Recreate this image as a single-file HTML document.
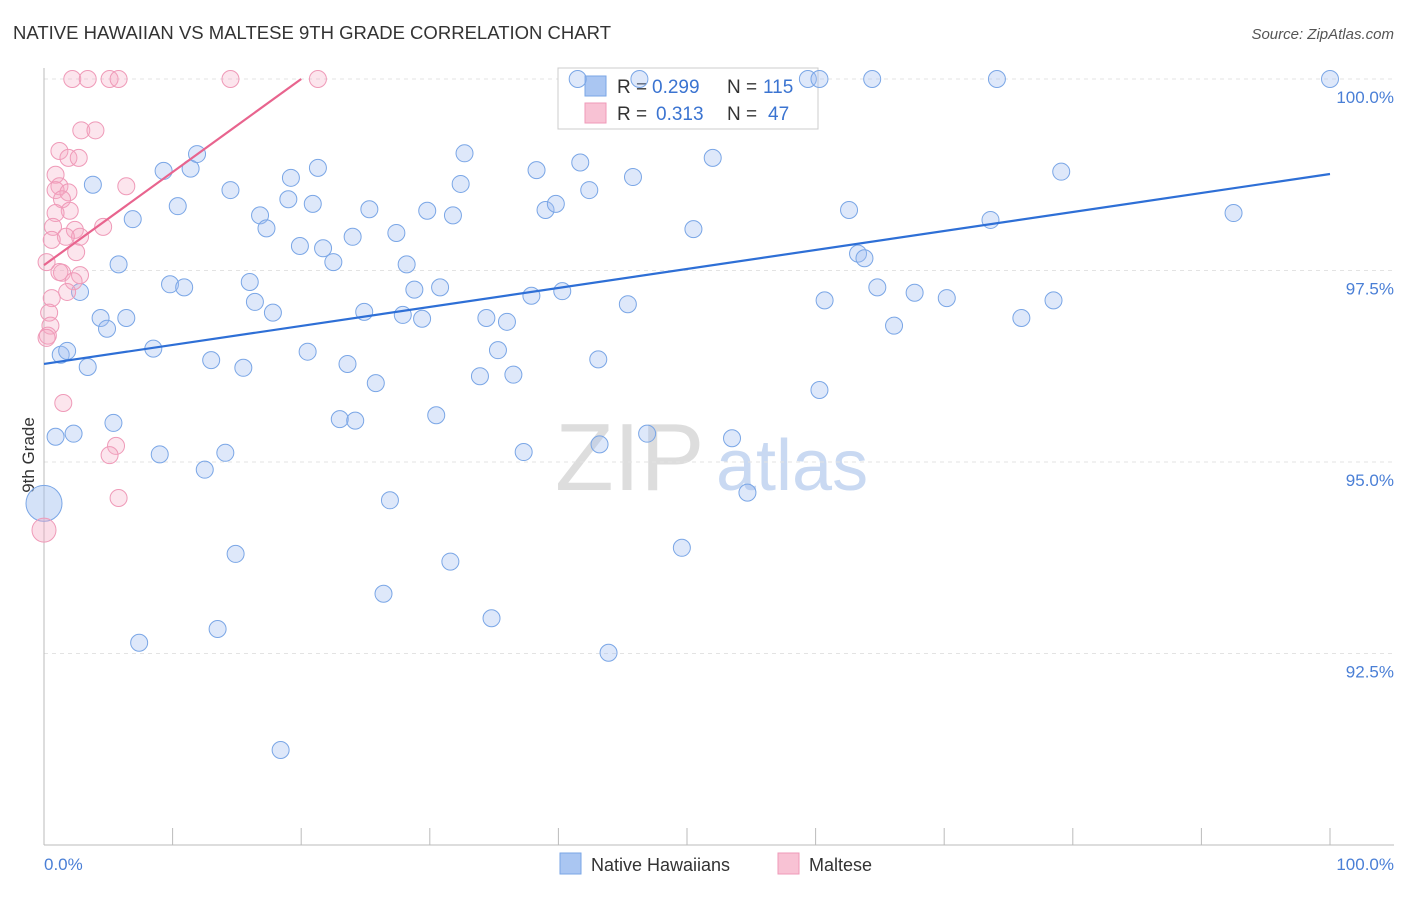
<!DOCTYPE html>
<html><head><meta charset="utf-8"><style>
body{margin:0;background:#fff;font-family:"Liberation Sans",sans-serif}
svg text{font-family:"Liberation Sans",sans-serif}
</style></head><body>
<svg id="chart" width="1406" height="892" viewBox="0 0 1406 892">
<text x="13" y="39" font-size="18.5" fill="#333" textLength="598">NATIVE HAWAIIAN VS MALTESE 9TH GRADE CORRELATION CHART</text>
<text x="1394" y="39" font-size="15" fill="#555" font-style="italic" text-anchor="end">Source: ZipAtlas.com</text>
<g><text x="555" y="490" font-size="96" fill="#ddd" font-family="Liberation Serif">ZIP</text><text x="716" y="490" font-size="72" fill="#c9d9f2">atlas</text></g>
<g id="grid"></g><g id="axes"></g>
<text transform="translate(34,455) rotate(-90)" font-size="17" fill="#333" text-anchor="middle">9th Grade</text>
<g>
<rect x="558" y="68" width="260" height="61" fill="#fff" stroke="#ccc"/>
<rect x="585" y="76" width="21" height="20" fill="#aac6f2" stroke="#7aa6e6"/>
<text x="617" y="93" font-size="19" fill="#333">R = </text><text x="652" y="93" font-size="19" fill="#3b74d1">0.299</text>
<text x="727" y="93" font-size="19" fill="#333">N = </text><text x="763" y="93" font-size="19" fill="#3b74d1">115</text>
<rect x="585" y="103" width="21" height="20" fill="#f8c2d4" stroke="#ef9ab8"/>
<text x="617" y="120" font-size="19" fill="#333">R = </text><text x="656" y="120" font-size="19" fill="#3b74d1">0.313</text>
<text x="727" y="120" font-size="19" fill="#333">N = </text><text x="768" y="120" font-size="19" fill="#3b74d1">47</text>
</g>
<g id="pts"></g><g id="lines"></g>
<g><rect x="560" y="853" width="21" height="21" fill="#aac6f2" stroke="#7aa6e6"/><text x="591" y="871" font-size="18" fill="#333">Native Hawaiians</text></g>
<g><rect x="778" y="853" width="21" height="21" fill="#f8c2d4" stroke="#ef9ab8"/><text x="809" y="871" font-size="18" fill="#333">Maltese</text></g>
</svg>
<script>
const blueX=[100,41.5,46.3,59.4,60.3,64.4,74.1,0.9,2.3,1.3,1.8,3.4,2.8,3.8,4.4,4.9,6.4,5.8,6.9,5.4,7.4,8.5,9.0,9.3,10.4,9.8,10.9,11.4,11.9,12.5,13.0,13.5,14.1,14.5,14.9,15.5,16.0,16.4,16.8,17.3,17.8,18.4,19.0,19.2,19.9,20.5,20.9,21.3,21.7,22.5,23.0,23.6,24.0,24.2,24.9,25.3,25.8,26.4,26.9,27.4,27.9,28.2,28.8,29.4,29.8,30.5,30.8,31.6,31.8,32.4,32.7,33.9,34.4,34.8,35.3,36.0,36.5,37.3,37.9,38.3,39.0,39.8,40.3,41.7,42.4,43.1,43.2,43.9,45.4,45.8,46.9,49.6,50.5,52.0,53.5,54.7,60.3,60.7,62.6,63.3,63.8,64.8,66.1,67.7,70.2,73.6,76.0,78.5,79.1,92.5];
const blueY=[100,100,100,100,100,100,100,95.33,95.37,96.4,96.45,96.24,97.22,98.62,96.88,96.74,96.88,97.58,98.17,95.51,92.64,96.48,95.1,98.8,98.34,97.32,97.28,98.83,99.02,94.9,96.33,92.82,95.12,98.55,93.8,96.23,97.35,97.09,98.22,98.05,96.95,91.24,98.43,98.71,97.82,96.44,98.37,98.84,97.79,97.61,95.56,96.28,97.94,95.54,96.96,98.3,96.03,93.28,94.5,97.99,96.92,97.58,97.25,96.87,98.28,95.61,97.28,93.7,98.22,98.63,99.03,96.12,96.88,92.96,96.46,96.83,96.14,95.13,97.17,98.81,98.29,98.37,97.23,98.91,98.55,96.34,95.23,92.51,97.06,98.72,95.37,93.88,98.04,98.97,95.31,94.6,95.94,97.11,98.29,97.72,97.66,97.28,96.78,97.21,97.14,98.16,96.88,97.11,98.79,98.25];
const pinkX=[2.2,3.4,5.1,5.8,14.5,21.3,2.9,4.0,1.2,1.9,2.7,0.9,1.2,0.9,1.9,6.4,1.4,2.0,0.9,4.6,0.7,2.4,2.8,1.7,0.6,2.5,0.2,1.4,1.2,2.8,2.3,1.8,0.6,0.4,0.5,0.3,0.2,1.5,5.6,5.1,5.8];
const pinkY=[100,100,100,100,100,100,99.33,99.33,99.06,98.97,98.97,98.75,98.6,98.55,98.52,98.6,98.43,98.28,98.25,98.07,98.07,98.03,97.94,97.94,97.9,97.74,97.61,97.47,97.48,97.44,97.36,97.22,97.14,96.95,96.78,96.65,96.62,95.77,95.21,95.09,94.53];
const bigX=[0,0];const bigY=[94.46,94.11];
const yTicks=[100,97.5,95,92.5];const yTickLabels=["100.0%","97.5%","95.0%","92.5%"];
const blueTrend=[96.28,98.76];const pinkTrend=[97.57,100.0];const pinkTrendEndX=20;
const xs=v=>44+v*12.86, ys=v=>79+(100-v)*76.6;
const NS="http://www.w3.org/2000/svg";
function mk(tag,attrs,parent){const e=document.createElementNS(NS,tag);for(const k in attrs)e.setAttribute(k,attrs[k]);document.getElementById(parent).appendChild(e);return e;}
yTicks.forEach((t,i)=>{
 const l=mk('line',{x1:44,x2:1394,y1:ys(t),y2:ys(t),stroke:'#e3e3e3','stroke-dasharray':'4,4'},'grid');
 
 
 const tx=mk('text',{x:1394,y:ys(t)+24,'font-size':17,fill:'#4a7fd6','text-anchor':'end'},'grid');tx.textContent=yTickLabels[i];
 
 
});
const ax=mk('line',{x1:44,x2:1394,y1:845,y2:845,stroke:'#bbb'},'axes');


const ay=mk('line',{x1:44,x2:44,y1:68,y2:845,stroke:'#bbb'},'axes');


for(let i=0;i<=10;i++){const t=mk('line',{x1:xs(i*10),x2:xs(i*10),y1:828,y2:845,stroke:'#bbb'},'axes');
 
 }
const x0=mk('text',{x:44,y:870,'font-size':17,fill:'#4a7fd6'},'axes');x0.textContent='0.0%';


const x1=mk('text',{x:1394,y:870,'font-size':17,fill:'#4a7fd6','text-anchor':'end'},'axes');x1.textContent='100.0%';


blueX.forEach((v,i)=>{const c=mk('circle',{cx:xs(v),cy:ys(blueY[i]),r:8.5,fill:'rgba(160,190,240,0.35)',stroke:'#7aa6e6','stroke-width':1},'pts');
 
 });
pinkX.forEach((v,i)=>{const c=mk('circle',{cx:xs(v),cy:ys(pinkY[i]),r:8.5,fill:'rgba(245,170,195,0.3)',stroke:'#ef9ab8','stroke-width':1},'pts');
 
 });
const bb=mk('circle',{cx:xs(bigX[0]),cy:ys(bigY[0]),r:18,fill:'rgba(160,190,240,0.45)',stroke:'#7aa6e6'},'pts');


const bp=mk('circle',{cx:xs(bigX[1]),cy:ys(bigY[1]),r:12,fill:'rgba(245,170,195,0.4)',stroke:'#ef9ab8'},'pts');


const bl=mk('line',{x1:xs(0),y1:ys(blueTrend[0]),x2:xs(100),y2:ys(blueTrend[1]),stroke:'#2e6fd6','stroke-width':2.2},'lines');


const pl=mk('line',{x1:xs(0),y1:ys(pinkTrend[0]),x2:xs(pinkTrendEndX),y2:ys(pinkTrend[1]),stroke:'#e8648e','stroke-width':2.2},'lines');


</script>
</body></html>
